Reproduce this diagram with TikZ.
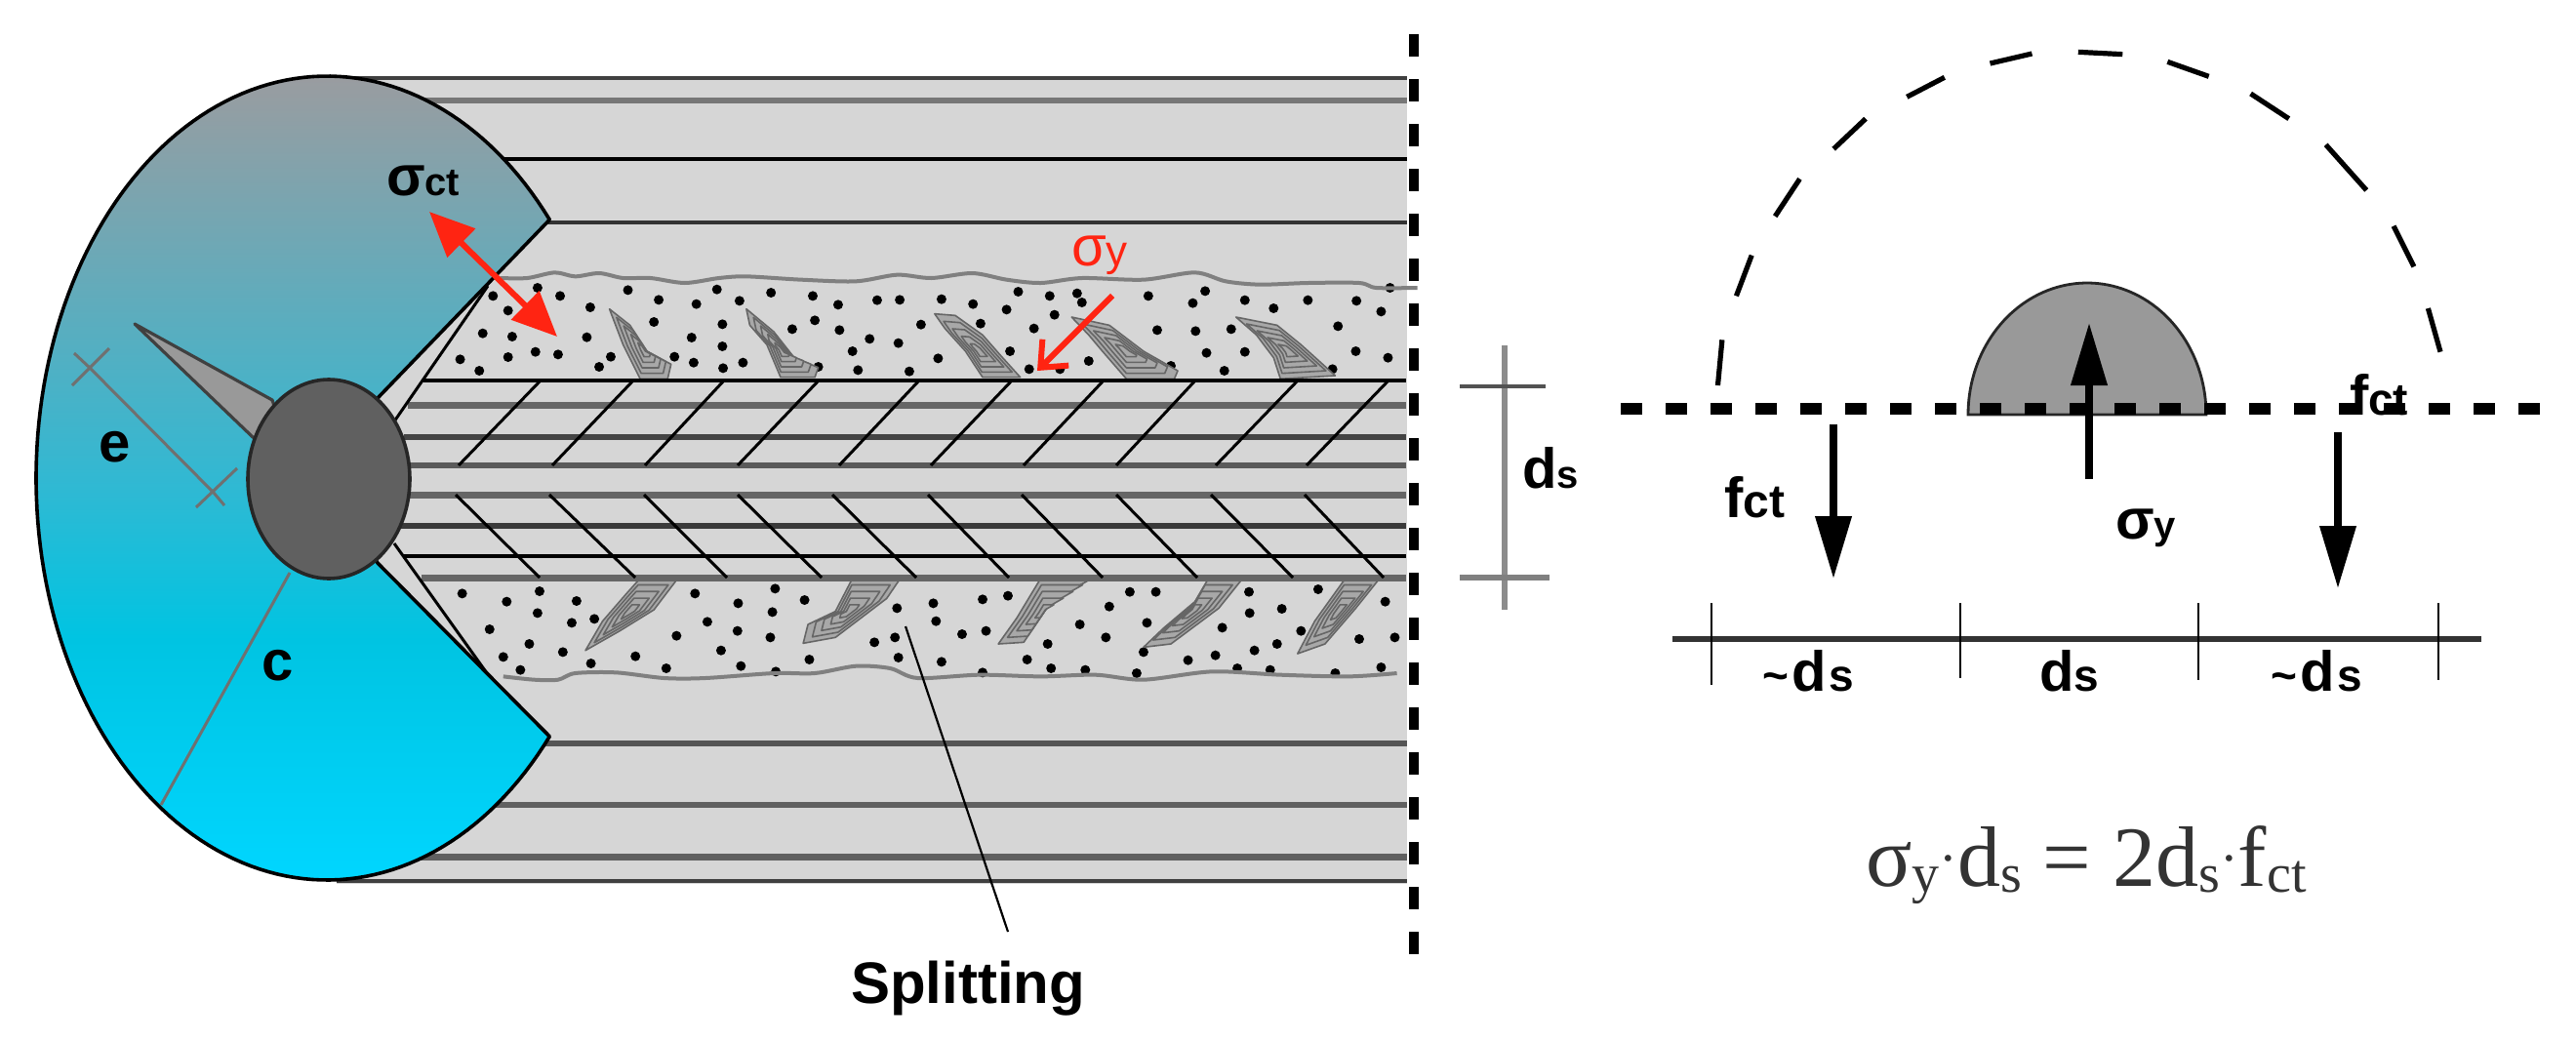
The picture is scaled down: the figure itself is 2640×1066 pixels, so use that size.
\documentclass[tikz,border=0pt]{standalone}
\usepackage{fontspec}
\usetikzlibrary{arrows.meta}
\setmainfont{Liberation Sans}
\newfontfamily\serifeq{Liberation Serif}
\newcommand\bigt{\fontsize{29}{29}\selectfont\bfseries}
\newcommand\smt{\fontsize{20}{20}\selectfont\bfseries}
\newcommand\midt{\fontsize{23}{23}\selectfont\bfseries}
\newcommand\fctt{\fontsize{24}{24}\selectfont\bfseries}
\newcommand\bigreg{\fontsize{29}{29}\selectfont}
\newcommand\smreg{\fontsize{22}{22}\selectfont}
\newcommand\eqbig{\fontsize{44}{44}\selectfont}
\newcommand\eqsml{\fontsize{28}{28}\selectfont}
\definecolor{rectgray}{HTML}{D6D6D6}
\definecolor{dimgray}{HTML}{707070}
\definecolor{redarrow}{HTML}{FF2412}
\definecolor{wedgegray}{HTML}{999999}
\definecolor{bargray}{HTML}{606060}
\definecolor{ribfill}{HTML}{A8A8A8}
\definecolor{ribline}{HTML}{666666}
\pgfdeclareverticalshading{fanshade}{100bp}{
  rgb(0bp)=(0,0.839,1);
  rgb(25bp)=(0,0.839,1);
  rgb(40bp)=(0,0.769,0.886);
  rgb(50bp)=(0.196,0.722,0.824);
  rgb(75bp)=(0.604,0.612,0.627);
  rgb(100bp)=(0.604,0.612,0.627)}
\newcommand\rib[3]{%
  \foreach \s in {1,0.8,0.6,0.4,0.2}{%
    \draw[ribstyle,shift={(#1,#2)},scale=\s,shift={(-#1,-#2)}] plot coordinates {#3} -- cycle;
  }%
}
\tikzset{
  lab/.style={anchor=base west,inner sep=0pt,outer sep=0pt},
  ribstyle/.style={draw=ribline,fill=ribfill,line join=round,line width=0.8pt},
  hatchline/.style={line width=1.5pt,draw=black},
  dimline/.style={draw=dimgray,line width=1.5pt},
  blackarrow/.style={line width=3.6pt,-{Triangle[length=32pt,width=18pt]}},
  redarrowline/.style={draw=redarrow,line width=3pt},
  roughline/.style={draw=gray,line width=2pt,line join=round},
  axisdash/.style={line width=5pt,draw=black,dash pattern=on 11.5pt off 11.5pt},
  forcedash/.style={line width=6pt,draw=black,dash pattern=on 11pt off 12pt},
  arcdash/.style={line width=2.6pt,draw=black},
}
\begin{document}
\begin{tikzpicture}[x=0.5pt,y=-0.5pt]
\useasboundingbox (0,0) rectangle (2640,1066);
\fill[white] (0,0) rectangle (2640,1066);

% concrete body
\fill[rectgray] (345,78) rectangle (1442,906);
\foreach \yy/\w/\cc in {80/1.6/404040,103/3/777777,163/1.6/000000,228/2.2/333333,
   762/3/555555,825/3/606060,878/3.5/606060,903/2.2/404040}{
  \definecolor{tmpc}{HTML}{\cc}
  \draw[line width=\w pt,tmpc] (345,\yy) -- (1442,\yy);
}

% band contents, in the coordinates of a 1100x480 crop
\begin{scope}[shift={(400,220)},x=0.35088pt,y=-0.16667pt]
\foreach \px/\py in {150/250,215/225,248/250,292/285,172/295,347/232,392/262,447/275,477/230,510/265,556/240,617/250,654/277,711/263,744/262,805/260,851/275,900/292,917/237,963/250,1003/242,1010/270,1107/250,1172/272,1190/235,1248/263,1340/263,1411/265,1290/288,1447/298,970/308,385/330,485/337,620/325,135/365,178/375,287/377,440/378,587/352,656/355,775/338,862/335,940/350,1120/355,1176/358,1228/352,1384/343,700/382,742/395,485/405,675/420,905/420,212/422,172/438,245/430,102/445,322/437,415/437,443/455,515/455,800/442,1020/450,1192/425,1248/422,1410/420,1457/440,130/480,305/468,486/472,625/468,683/478,758/482,933/475,978/475,1140/465,1218/480,1376/475,1460/225,
105/1165,170/1190,218/1158,272/1188,215/1225,265/1255,298/1243,145/1275,203/1320,252/1345,165/1360,190/1400,293/1380,358/1358,403/1395,445/1165,508/1195,418/1295,463/1252,507/1280,483/1340,512/1388,562/1150,605/1185,558/1222,555/1300,563/1405,612/1368,740/1210,793/1195,797/1250,707/1315,737/1300,742/1362,835/1290,870/1280,805/1375,865/1183,902/1172,865/1408,930/1368,960/1320,965/1395,1015/1400,1050/1205,1007/1260,1045/1300,1080/1160,1118/1160,1105/1255,1090/1410,1165/1370,1205/1355,1215/1270,1254/1160,1255/1225,1302/1212,1295/1320,1262/1340,1237/1395,1285/1400,1355/1152,1330/1280,1415/1305,1467/1300,1453/1190,1380/1410,1447/1392,1100/1345}{
  \fill[black] (\px,\py) circle[radius=2.5pt];
}
\rib{372}{420}{(320,290) (350,340) (375,420) (410,460) (405,505) (365,505) (340,400)}
\rib{572}{420}{(520,290) (560,360) (590,440) (625,470) (620,500) (570,500) (550,400) (525,340)}
\rib{860}{420}{(795,305) (825,310) (865,370) (890,430) (920,500) (865,500) (840,420) (810,350)}
\rib{1075}{420}{(995,315) (1050,340) (1100,420) (1150,480) (1145,505) (1075,505) (1040,420) (1020,370)}
\rib{1312}{420}{(1235,315) (1295,340) (1330,400) (1380,495) (1300,505) (1290,440) (1265,370)}
\rib{350}{1220}{(420,1118) (385,1215) (335,1280) (285,1340) (310,1250) (345,1165) (365,1118)}
\rib{670}{1220}{(745,1118) (725,1180) (650,1300) (603,1318) (610,1260) (650,1220) (675,1118)}
\rib{955}{1220}{(1025,1118) (965,1190) (925,1315) (888,1320) (915,1240) (950,1118)}
\rib{1170}{1220}{(1245,1118) (1210,1210) (1140,1320) (1100,1330) (1130,1270) (1175,1190) (1195,1118)}
\rib{1385}{1220}{(1445,1118) (1410,1210) (1365,1320) (1325,1350) (1350,1250) (1395,1118)}
\draw[roughline] plot[smooth,tension=0.5] coordinates {(160,195) (200,195) (240,178) (270,190) (305,180) (340,195) (380,195) (430,210) (480,195) (520,190) (600,200) (680,205) (740,185) (790,195) (850,180) (900,200) (950,210) (1010,195) (1100,200) (1175,178) (1220,205) (1270,215) (1340,210) (1415,210) (1440,225) (1500,225)};
\draw[roughline] plot[smooth,tension=0.5] coordinates {(165,1420) (210,1430) (245,1430) (270,1410) (330,1408) (400,1425) (460,1425) (560,1410) (620,1410) (680,1388) (730,1395) (770,1425) (860,1415) (950,1420) (1030,1415) (1100,1430) (1200,1405) (1300,1415) (1400,1420) (1470,1410)};
\end{scope}

% bar layers
\foreach \yy/\xs/\w/\cc in {390/434/1.8/000000,415/418/3.5/666666,448/414/2.8/444444,477/418/3.2/5A5A5A,
   507/418/3.5/666666,539/407/2.8/3A3A3A,570/414/1.9/000000,592/432/3.5/666666}{
  \definecolor{tmpc}{HTML}{\cc}
  \draw[line width=\w pt,tmpc] (\xs,\yy) -- (1441,\yy);
}
\foreach \xa/\xb in {554/470,649/566,742/661,839/756,942/860,1037/954,1131/1049,1225/1144,1330/1246,1423/1339}{
  \draw[hatchline] (\xa,390) -- (\xb,477);
}
\foreach \xa/\xb in {467/553,563/651,660/745,756/842,853/939,951/1034,1047/1130,1144/1227,1241/1325,1337/1418}{
  \draw[hatchline] (\xa,507) -- (\xb,592);
}
\draw[hatchline] (500,293) -- (404,432);
\draw[hatchline] (404,557) -- (504,697);

% cover fan
\shade[shading=fanshade,draw=black,line width=1.8pt,line join=round]
  plot[domain=-40:-320,samples=160] ({335+298*cos(\x)},{490+412*sin(\x)}) -- (387,577) -- (337,491) -- (388,407) -- cycle;

% rib cone
\fill[wedgegray,draw=black!75,line width=1.6pt,line join=round] (138,332) -- (279,410) -- (300,470) -- (259,448) -- cycle;

% bar
\fill[bargray,draw=black!85,line width=1.8pt] (337,491) ellipse[x radius=83,y radius=102];

% cover dimension e and c
\coordinate (eA) at (92,377);
\coordinate (eB) at (219,505);
\coordinate (cA) at (297,587);
\coordinate (cB) at (165,825);
\draw[dimline] (76,362) -- (eA) -- (eB) -- (230,518);
\draw[dimline] (112,357) -- (74,395);
\draw[dimline] (243,480) -- (201,520);
\draw[dimline] (cA) -- (cB);

% red arrows
\coordinate (rA) at (440,217);
\coordinate (rB) at (571,345);
\draw[redarrowline,{Triangle[length=23pt,width=20pt]}-{Triangle[length=23pt,width=20pt]}] (rA) -- (rB);
\coordinate (syA) at (1140,303);
\coordinate (syB) at (1063,380);
\draw[redarrowline,-{Straight Barb[length=11pt,width=19pt,line width=3pt]}] (syA) -- (syB);

% splitting leader
\coordinate (spA) at (928,642);
\coordinate (spB) at (1033,955);
\draw[black,line width=1.1pt] (spA) -- (spB);

% symmetry axis
\coordinate (axA) at (1449,35);
\coordinate (axB) at (1449,978);
\draw[axisdash] (axA) -- (axB);

% bracket ds
\coordinate (brA) at (1542,354);
\coordinate (brB) at (1542,625);
\draw[line width=3pt,draw=black!45] (brA) -- (brB);
\draw[line width=2.4pt,draw=black!68] (1496,396) -- (1584,396);
\draw[line width=3.2pt,draw=black!50] (1496,592) -- (1588,592);

% right figure
\fill[wedgegray,draw=black!85,line width=1.4pt] plot[domain=180:360,samples=80] ({2139+122*cos(\x)},{425+135*sin(\x)}) -- cycle;
\coordinate (fA) at (1661,419);
\coordinate (fB) at (2603,419);
\draw[forcedash] (fA) -- (fB);

% dashed arc, in the coordinates of a 990x420 crop
\begin{scope}[shift={(1650,20)},x=0.31566pt,y=-0.16667pt]
\foreach \ax/\ay/\bx/\by in {175/1125/182/985,205/850/230/725,268/605/308/490,363/398/415/305,482/238/543/178,617/135/685/105,760/100/832/107,905/130/972/175,1040/228/1102/305,1162/385/1228/525,1272/635/1305/760,1328/888/1348/1022}{
  \draw[arcdash] (\ax,\ay) -- (\bx,\by);
}
\end{scope}

% force arrows
\coordinate (aA) at (1879,435);
\coordinate (aB) at (1879,593);
\coordinate (bA) at (2141,491);
\coordinate (bB) at (2141,331);
\coordinate (cA2) at (2396,443);
\coordinate (cB2) at (2396,603);
\draw[blackarrow] (aA) -- (aB);
\draw[blackarrow] (bA) -- (bB);
\draw[blackarrow] (cA2) -- (cB2);

% scale
\coordinate (sA) at (1714,655);
\coordinate (sB) at (2543,655);
\draw[line width=2.6pt,draw=black!80] (sA) -- (sB);
\draw[line width=1.3pt] (1754,618) -- (1754,702);
\draw[line width=1.3pt] (2009,618) -- (2009,695);
\draw[line width=1.3pt] (2253,618) -- (2253,697);
\draw[line width=1.3pt] (2499,618) -- (2499,697);

% labels
\node[lab] (sct) at (396,200) {\bigt σ\smt ct};
\node[lab] (elab) at (101,473) {\bigt e};
\node[lab] (clab) at (268,697) {\bigt c};
\node[lab,text=redarrow] (syred) at (1098,272) {\bigreg σ\smreg y};
\node[lab] (dsr) at (1560,500) {\bigt d\smt s};
\node[lab] (split) at (872,1028) {\fontsize{30}{30}\selectfont\bfseries Splitting};
\node[lab] (f1) at (1767,530) {\bigt f\fctt ct};
\node[lab] (f2) at (2408,425) {\bigt f\midt ct};
\node[lab] (sy) at (2168,552) {\bigt σ\smt y};
\node[lab] (d1) at (1806,708) {\midt\textasciitilde\hspace{2pt}\bigt d\hspace{1pt}\midt s};
\node[lab] (d2) at (2090,708) {\bigt d\midt s};
\node[lab] (d3) at (2327,708) {\midt\textasciitilde\hspace{2pt}\bigt d\hspace{1pt}\midt s};
\node[lab,font=\serifeq,text=black!80] (eq) at (1912,908) {\eqbig σ\raisebox{-3pt}{\eqsml y}\raisebox{5pt}{\eqsml ·}d\raisebox{-3pt}{\eqsml s} = 2d\raisebox{-3pt}{\eqsml s}\raisebox{5pt}{\eqsml ·}f\raisebox{-3pt}{\eqsml ct}};
\end{tikzpicture}
\end{document}
